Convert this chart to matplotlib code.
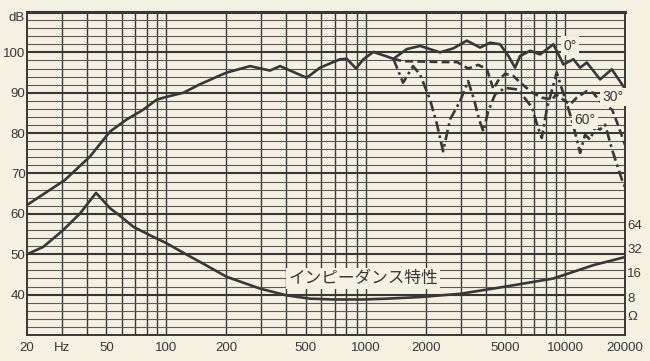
import matplotlib
matplotlib.use('Agg')
import matplotlib.pyplot as plt
from matplotlib.ticker import NullLocator
from matplotlib.transforms import blended_transform_factory

# on-axis (0 deg) response, Hz / dB
freq_0 = [20, 31, 41.4, 52.2, 63.3, 76.6, 89.5, 100.5, 121.7, 147.6, 186, 201,
          263, 331, 372, 506, 590, 744, 804, 895, 974, 1093, 1276, 1377, 1608,
          1875, 2362, 2754, 3216, 3750, 4210, 4724, 5200, 5618, 5952, 6684,
          7500, 8746, 9818, 11020, 11904, 12862, 14998, 17174, 20000]
db_0 = [62.2, 68.4, 74.2, 80.4, 83.4, 85.8, 88.3, 89.0, 90.0, 92.1, 94.3, 95.0,
        96.6, 95.5, 96.6, 93.7, 96.2, 98.3, 98.4, 96.0, 98.3, 100.1, 99.0, 98.4,
        100.8, 101.6, 100.0, 101.0, 102.9, 101.2, 102.4, 102.0, 99.1, 96.2, 99.1,
        100.4, 99.5, 102.0, 97.0, 98.3, 96.2, 97.5, 93.3, 95.8, 91.0]

# 30 deg off-axis
freq_30 = [1377, 1540, 1730, 2030, 2450, 2876, 3264, 3664, 4052, 4372, 4616,
           5006, 5488, 6070, 6814, 7646, 8616, 9024, 9782, 10606, 11460, 12862,
           13836, 14998, 16266, 17234, 18258, 20000]
db_30 = [98.4, 97.8, 97.8, 97.7, 97.6, 97.6, 96.0, 96.9, 95.9, 90.9, 93.0,
         94.7, 94.2, 92.2, 90.1, 88.8, 88.3, 89.6, 88.3, 87.1, 88.8, 90.4,
         90.0, 87.9, 86.6, 85.8, 82.6, 77.1]

# 60 deg off-axis
freq_60 = [1377, 1540, 1730, 1875, 2104, 2281, 2446, 2652, 2976, 3264, 3498,
           3706, 3896, 4112, 4460, 5006, 5816, 6840, 7244, 7646, 8132, 9094,
           9668, 10244, 10982, 11904, 12612, 13368, 14158, 14998, 15894, 17234,
           18258, 19566, 20000]
db_60 = [98.4, 92.5, 96.6, 94.5, 88.3, 82.1, 75.5, 83.4, 87.9, 92.9, 88.3,
         83.4, 80.4, 85.3, 89.6, 91.2, 90.8, 86.3, 82.1, 78.8, 86.3, 95.0,
         90.8, 87.1, 82.1, 75.1, 79.6, 78.4, 81.4, 80.9, 82.1, 75.9,
         72.1, 67.6, 66.7]

# impedance curve, drawn on the dB scale
freq_z = [20, 24.1, 30.4, 36.9, 44.4, 52.2, 58.6, 68.3, 82.8, 100.5, 121.3,
          147.6, 201, 295, 402, 526, 689, 974, 1276, 1875, 2976, 4908, 8746,
          13882, 20000]
db_z = [50.0, 51.8, 56.0, 60.1, 65.2, 61.4, 59.5, 56.8, 54.7, 52.7, 50.4,
        48.1, 44.4, 41.5, 39.8, 39.0, 38.8, 38.8, 39.0, 39.4, 40.2, 41.9, 44.0,
        47.3, 49.3]

x_ticks = [20, 30, 50, 100, 200, 500, 1000, 2000, 5000, 10000, 20000]
x_labels = ['20', 'Hz', '50', '100', '200', '500', '1000', '2000', '5000', '10000', '20000']
y_ticks = [40, 50, 60, 70, 80, 90, 100]
ohm_labels = ['64', '32', '16', '8', 'Ω']
ohm_levels = [57, 51, 45, 39, 34.4]

bg = '#f4f0e2'
ink = '#383838'

plt.rcParams['font.family'] = ['Liberation Sans', 'Noto Sans CJK JP', 'DejaVu Sans']

fig = plt.figure(figsize=(6.5, 3.61), dpi=100, facecolor=bg)
ax = fig.add_axes([27/650, 1 - 335/361, 598/650, 323/361])
ax.set_facecolor(bg)
ax.set_xscale('log')
ax.set_xlim(20, 20000)
ax.set_ylim(30, 110)

# chart paper grid
grid_f = [m * 10**e for e in range(1, 5) for m in range(1, 10)]
for f in grid_f:
    if 20 < f < 20000:
        ax.axvline(f, color=ink, lw=1.0, zorder=1)
for d in range(32, 110, 2):
    if d % 10 == 0:
        ax.axhline(d, color=ink, lw=1.5, zorder=1)
    else:
        ax.axhline(d, color='#5a5a5a', lw=0.8, zorder=1)

for s in ax.spines.values():
    s.set_color(ink)
    s.set_linewidth(1.4)
ax.spines['top'].set_linewidth(2.2)

ax.plot(freq_0, db_0, color=ink, lw=1.9, zorder=3)
ax.plot(freq_30, db_30, color=ink, lw=1.9, ls=(0, (3, 1.6)), zorder=3)
ax.plot(freq_60, db_60, color=ink, lw=1.9, ls=(0, (4, 1.5, 1, 1.5)), zorder=3)
ax.plot(freq_z, db_z, color=ink, lw=1.9, zorder=3)

box = dict(boxstyle='square,pad=0.15', fc=bg, ec='none')
ax.text(10606, 101.7, '0°', ha='center', va='center', fontsize=10, color=ink, bbox=box, zorder=4)
ax.text(17430, 89.0, '30°', ha='center', va='center', fontsize=10, color=ink, bbox=box, zorder=4)
ax.text(12612, 83.3, '60°', ha='center', va='center', fontsize=10, color=ink, bbox=box, zorder=4)
ax.text(970, 44.0, 'インピーダンス特性', ha='center', va='center', fontsize=12,
        color=ink, bbox=box, zorder=4)

ax.xaxis.set_minor_locator(NullLocator())
ax.set_xticks(x_ticks)
ax.set_xticklabels(x_labels)
ax.set_yticks(y_ticks)
ax.set_yticklabels([str(v) for v in y_ticks])
ax.tick_params(length=0, colors=ink, labelsize=9.5)
ax.tick_params(axis='y', pad=1)
ax.tick_params(axis='x', pad=5)

tr = blended_transform_factory(ax.transAxes, ax.transData)
ax.text(-0.003, 108.5, 'dB', transform=tr, ha='right', va='center', fontsize=9.5, color=ink)
for lab, lev in zip(ohm_labels, ohm_levels):
    ax.text(1.004, lev, lab, transform=tr, ha='left', va='center', fontsize=9.5, color=ink)

fig.savefig('out.png', dpi=100, facecolor=bg)
